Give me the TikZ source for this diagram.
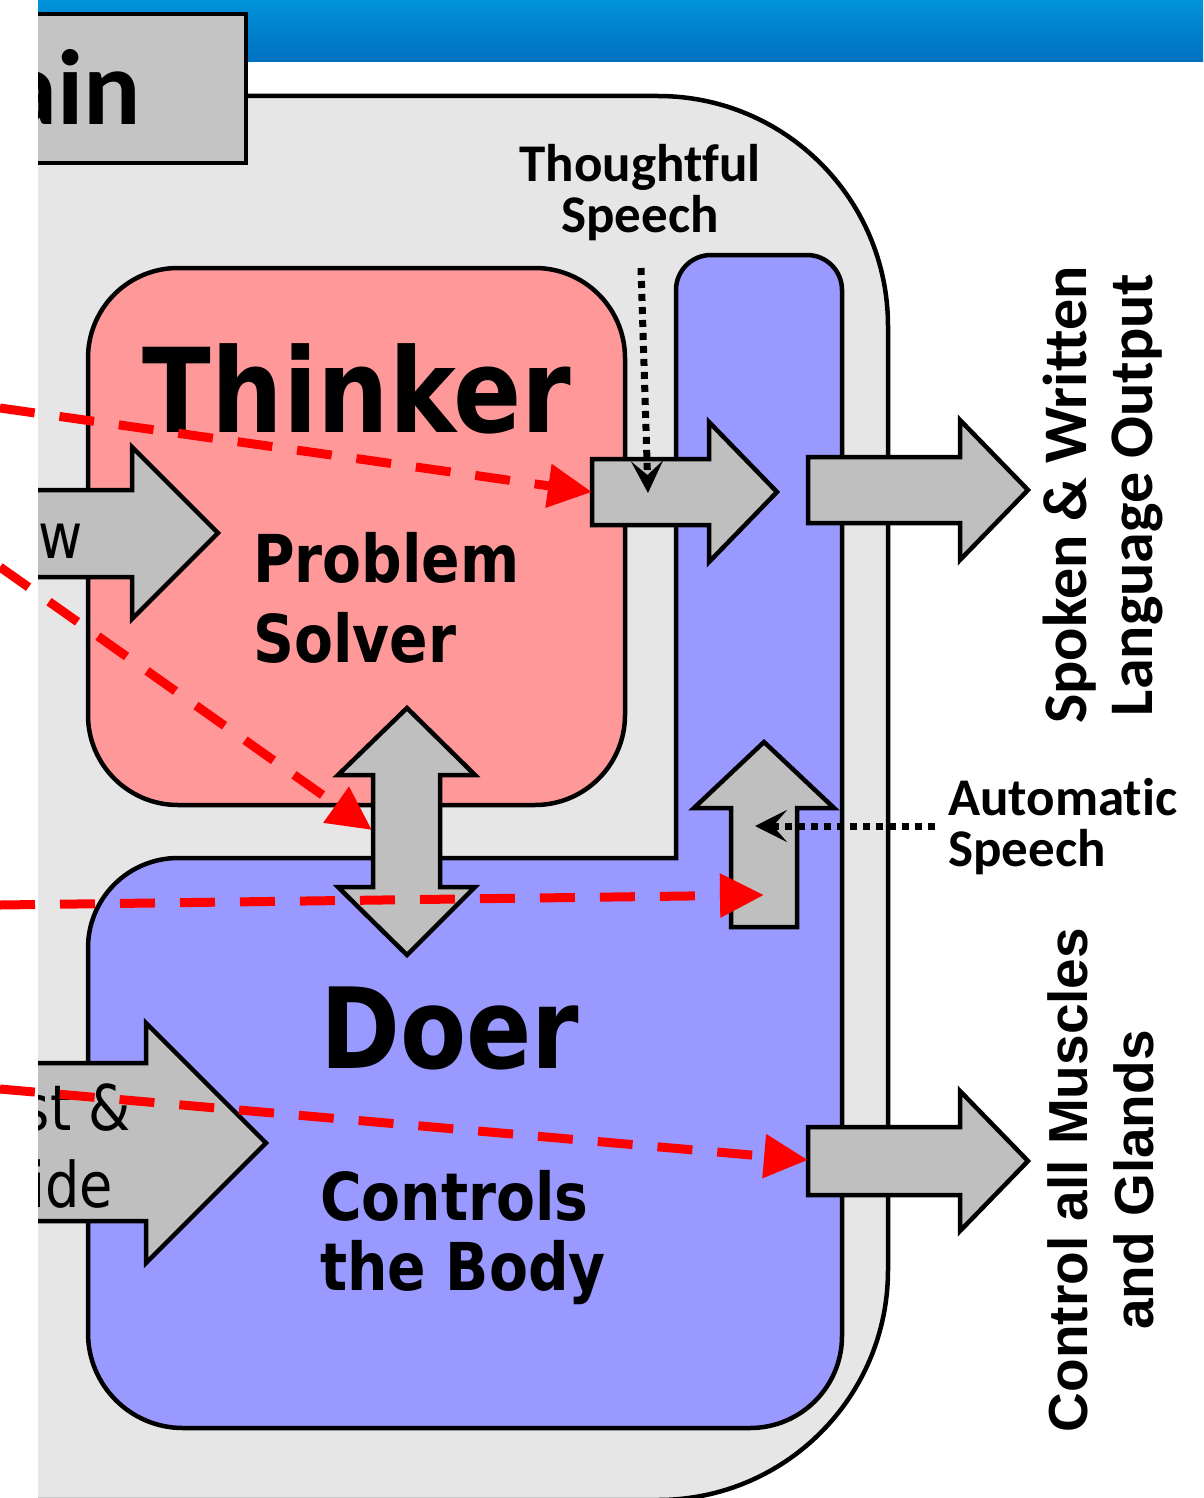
\documentclass[tikz,border=0pt]{standalone}
\usepackage{fontspec}
\usetikzlibrary{arrows.meta}
\newfontfamily\tahomalike[FakeStretch=0.86]{DejaVu Sans}
\newfontfamily\calibrilike[Ligatures=NoCommon]{Carlito}
\newfontfamily\ariallike{Liberation Sans}
\definecolor{bggray}{HTML}{E6E6E6}
\definecolor{titlegray}{HTML}{C4C4C4}
\definecolor{arrowgray}{HTML}{BFBFBF}
\definecolor{thinkpink}{HTML}{FF9999}
\definecolor{doerblue}{HTML}{9999FF}
\definecolor{barTop}{HTML}{0093DA}
\definecolor{barBottom}{HTML}{0070C0}
\definecolor{signalred}{HTML}{FF0000}
\begin{document}
\begin{tikzpicture}[x=1pt,y=-1pt,
  outline/.style={draw=black, line width=4.5pt},
  blockarrow/.style={outline, fill=arrowgray, line join=miter},
  reddash/.style={draw=signalred, line width=9pt, dash pattern=on 35pt off 25pt,
    -{Triangle[length=44pt,width=42pt]}},
  dotline/.style={draw=black, line width=7pt, dash pattern=on 7pt off 6pt,
    -{Stealth[length=32pt,width=32pt,inset=14pt]}},
  bigtitle/.style={font=\tahomalike\bfseries\fontsize{117}{120}\selectfont, inner sep=0pt},
  subtitle/.style={font=\tahomalike\bfseries\fontsize{66}{80}\selectfont, inner sep=0pt, align=left},
  sidelabel/.style={font=\calibrilike\bfseries\fontsize{53}{51}\selectfont, inner sep=0pt},
  inputlabel/.style={font=\tahomalike\fontsize{63}{77}\selectfont, inner sep=0pt},
]
\useasboundingbox (0,0) rectangle (1203,1498);
\fill[white] (0,0) rectangle (1203,1498);

\begin{scope}
  \clip (38,0) rectangle (1203,1498);
  % header bar
  \shade[top color=barTop, bottom color=barBottom] (38,0) rectangle (1203,62);
  % brain container
  \draw[outline, fill=bggray, rounded corners=230pt] (-300,96) rectangle (888,1500);
  % title tab
  \draw[outline, fill=titlegray] (-300,14) rectangle (246,163);
  \node (title) [anchor=base east, inner sep=0pt,
    font=\calibrilike\bfseries\fontsize{107}{110}\selectfont] at (141,125) {ain};

  % thinker
  \draw[outline, fill=thinkpink, rounded corners=90pt] (88,268) rectangle (625,805);
  % doer with its speech column
  \draw[outline, fill=doerblue, line join=miter]
    (676,858) -- (676,290) arc[start angle=180, end angle=270, radius=35]
    -- (807,255) arc[start angle=270, end angle=360, radius=35]
    -- (842,1336) arc[start angle=0, end angle=90, radius=92]
    -- (183,1428) arc[start angle=90, end angle=180, radius=95]
    -- (88,948) arc[start angle=180, end angle=270, radius=90]
    -- cycle;

  % block arrows
  \draw[blockarrow] (-50,490) -- (132,490) -- (132,447) -- (218,533) -- (132,619)
    -- (132,577) -- (-50,577) -- cycle;
  \draw[blockarrow] (592,459) -- (709,459) -- (709,422) -- (777,492) -- (709,562)
    -- (709,525) -- (592,525) -- cycle;
  \draw[blockarrow] (808,457) -- (960,457) -- (960,420) -- (1028,490) -- (960,560)
    -- (960,523) -- (808,523) -- cycle;
  \draw[blockarrow] (373,775) -- (338,775) -- (407,708) -- (475,775) -- (440,775)
    -- (440,887) -- (475,887) -- (407,955) -- (338,887) -- (373,887) -- cycle;
  \draw[blockarrow] (731,927) -- (731,808) -- (694,808) -- (764,742) -- (834,808)
    -- (797,808) -- (797,927) -- cycle;
  \draw[blockarrow] (-50,1063) -- (146,1063) -- (146,1023) -- (266,1143) -- (146,1263)
    -- (146,1221) -- (-50,1221) -- cycle;
  \draw[blockarrow] (808,1127) -- (960,1127) -- (960,1091) -- (1028,1161) -- (960,1231)
    -- (960,1195) -- (808,1195) -- cycle;

  % input arrow texts
  \node (inw) [inputlabel, anchor=base east] at (83,558) {w};
  \node (inst) [inputlabel, anchor=base east] at (131,1130) {st \&};
  \node (inide) [inputlabel, anchor=base east] at (113,1207) {ide};
\end{scope}

% box labels (multi-line nodes sit on the baseline of their last line)
\node (thinker) [bigtitle, anchor=base] at (357,432) {Thinker};
\node (solver) [subtitle, anchor=base west] at (253,662) {Problem\\Solver};
\node (doer) [bigtitle, anchor=base, font=\tahomalike\bfseries\fontsize{112}{115}\selectfont] at (450,1068) {Doer};
\node (body) [subtitle, anchor=base west, font=\tahomalike\bfseries\fontsize{66}{70}\selectfont] at (320,1290) {Controls\\the Body};

% speech labels
\node (thoughtful) [sidelabel, align=center, anchor=base] at (640,232) {Thoughtful\\Speech};
\node (automatic) [sidelabel, align=left, anchor=base west] at (948,866) {Automatic\\Speech};

% output labels
\node (langout) [rotate=90, anchor=base, align=center, inner sep=0pt,
  font=\calibrilike\bfseries\fontsize{62}{66}\selectfont] at (1152,495)
  {Spoken \& Written\\Language Output};
\node (muscles) [rotate=90, anchor=base, align=center, inner sep=0pt,
  font=\ariallike\bfseries\fontsize{55}{66}\selectfont] at (1153,1180)
  {Control all Muscles\\and Glands};

% signal routes
\coordinate (ra0) at (0,408);   \coordinate (ra1) at (592,492);
\coordinate (rb0) at (0,567);   \coordinate (rb1) at (372,830);
\coordinate (rc0) at (0,905);   \coordinate (rc1) at (764,895);
\coordinate (rd0) at (0,1089);  \coordinate (rd1) at (808,1160);
\draw[reddash] (ra0) -- (ra1);
\draw[reddash] (rb0) -- (rb1);
\draw[reddash] (rc0) -- (rc1);
\draw[reddash] (rd0) -- (rd1);

% speech pointers
\coordinate (ts0) at (641,268);  \coordinate (ts1) at (648,493);
\coordinate (as0) at (935,826);  \coordinate (as1) at (755,826);
\draw[dotline] (ts0) -- (ts1);
\draw[dotline] (as0) -- (as1);
\end{tikzpicture}
\end{document}
